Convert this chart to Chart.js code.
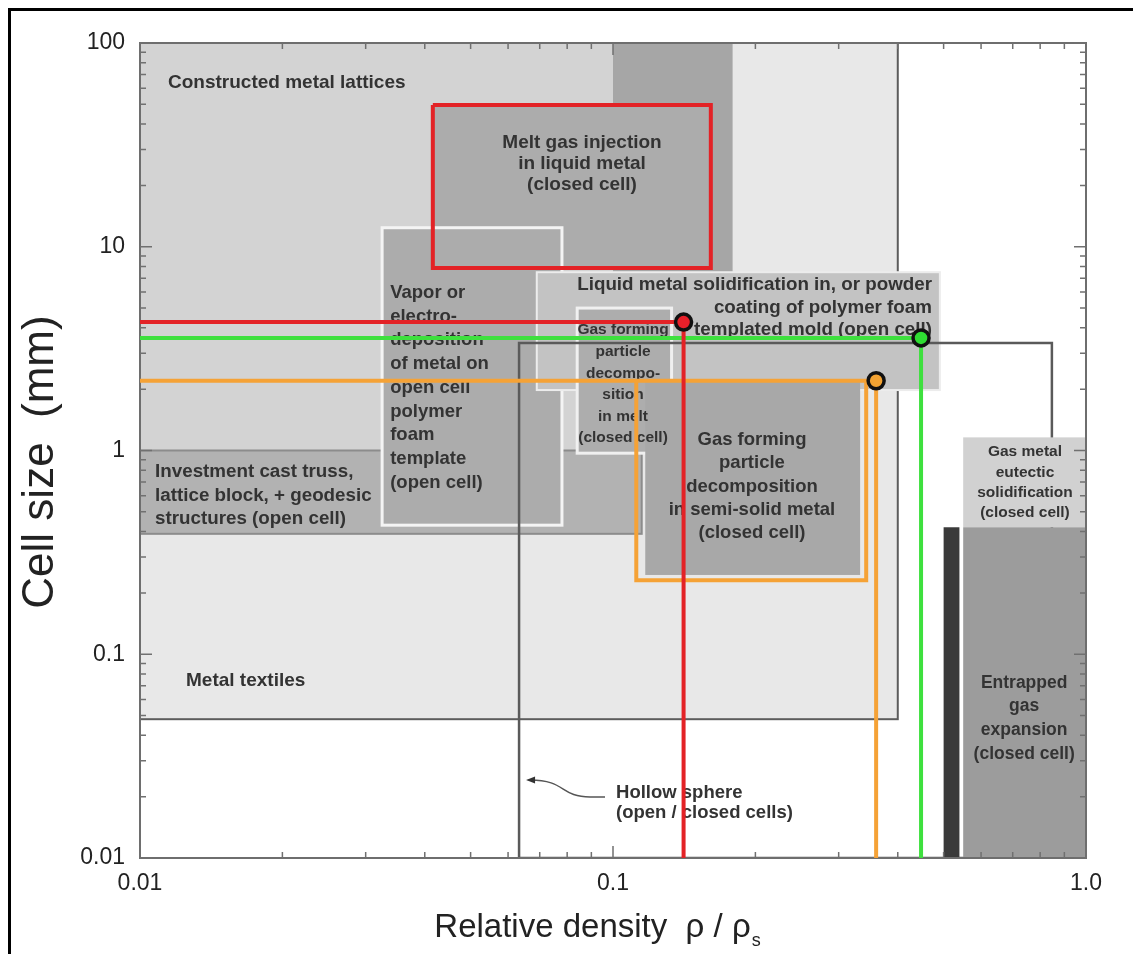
<!DOCTYPE html>
<html>
<head>
<meta charset="utf-8">
<script src="https://cdn.jsdelivr.net/npm/chart.js@4.4.1/dist/chart.umd.min.js"></script>
<style>
html,body{margin:0;padding:0;background:#fff;}
#wrap{position:relative;width:1133px;height:954px;}
</style>
</head>
<body>
<div id="wrap"><canvas id="c"></canvas></div>
<script>
const FONT = '"Liberation Sans", Arial, Helvetica, sans-serif';

// ---- axes ----
const xMin = 0.01, xMax = 1, yMin = 0.01, yMax = 100;
const xTickValues = [0.01, 0.1, 1];
const xTickLabels = ['0.01', '0.1', '1.0'];
const yTickValues = [0.01, 0.1, 1, 10, 100];
const yTickLabels = ['0.01', '0.1', '1', '10', '100'];

// ---- processing regions: relative density range, cell size range (mm) ----
const regionNames = [
  'Metal textiles',
  'Constructed metal lattices',
  'Melt gas injection (range)',
  'Investment cast truss',
  'Melt gas injection',
  'Vapor deposition',
  'Liquid metal solidification',
  'Gas forming in melt',
  'Gas forming semi-solid',
  'Hollow sphere',
  'Gas metal eutectic',
  'Entrapped gas expansion',
  'Entrapped gas (dense)'
];
const regionDensityMin = [0.01, 0.01, 0.1,   0.01,  0.0416, 0.0325, 0.069, 0.084, 0.117, 0.0633, 0.55, 0.55, 0.50];
const regionDensityMax = [0.40, 0.1,  0.179, 0.115, 0.161,  0.078,  0.491, 0.133, 0.333, 0.847,  1.0,  1.0,  0.54];
const regionCellMin    = [0.048, 1,   7.5,   0.39,  7.87,   0.43,   1.98,  0.97,  0.245, 0.01,   0.42, 0.01, 0.01];
const regionCellMax    = [100,  100,  100,   1,     49.6,   12.4,   7.5,   5.0,   2.2,   3.37,   1.16, 0.42, 0.42];

// ---- highlighted materials ----
const pointNames     = ['Red', 'Green', 'Orange'];
const pointDensity   = [0.141, 0.448, 0.36];
const pointCellSize  = [4.27, 3.57, 2.2];

// outlined boxes (red: melt gas injection, orange: semi-solid decomposition)
const redBoxDensity  = [0.0416, 0.161];
const redBoxCell     = [7.87, 49.6];
const orangeBoxDensity = [0.112, 0.343];
const orangeBoxCell    = [0.231, 2.2];

// ---- styles ----
const regionStyles = {
  'Metal textiles':              {fill:'#e8e8e8', stroke:'#5c5c5c', lw:2},
  'Constructed metal lattices':  {fill:'#d3d3d3'},
  'Melt gas injection (range)':  {fill:'#a6a6a6'},
  'Investment cast truss':       {fill:'#b2b2b2', stroke:'#8c8c8c', lw:2},
  'Melt gas injection':          {fill:'#acacac'},
  'Vapor deposition':            {fill:'#acacac', stroke:'#f4f4f4', lw:3},
  'Liquid metal solidification': {fill:'#c3c3c3', stroke:'#ececec', lw:2},
  'Gas forming in melt':         {fill:'#adadad', stroke:'#f0f0f0', lw:3},
  'Gas forming semi-solid':      {fill:'#a8a8a8'},
  'Hollow sphere':               {stroke:'#5a5a5a', lw:2.5},
  'Gas metal eutectic':          {fill:'#d1d1d1'},
  'Entrapped gas expansion':     {fill:'#9c9c9c'},
  'Entrapped gas (dense)':       {fill:'#3a3a3a'}
};
const pointColors = ['#e8202a', '#2fdd33', '#f2a232'];
const lineColors  = ['#e32226', '#3ee03e', '#f5a236'];

const labels = [
  {lines:['Constructed metal lattices'], x:0.01146, y:63.5, align:'left', size:19, lh:0},
  {lines:['Melt gas injection','in liquid metal','(closed cell)'], x:0.086, y:32.3, align:'center', size:19, lh:21},
  {lines:['Vapor or','electro-','deposition','of metal on','open cell','polymer','foam','template','(open cell)'], x:0.0338, y:5.93, align:'left', size:18.5, lh:23.7},
  {lines:['Liquid metal solidification in, or powder','coating of polymer foam','templated mold (open cell)'], x:0.4725, y:6.49, align:'right', size:18.8, lh:22.5},
  {lines:['Gas forming','particle','decompo-','sition','in melt','(closed cell)'], x:0.105, y:3.90, align:'center', size:15.5, lh:21.6},
  {lines:['Gas forming','particle','decomposition','in semi-solid metal','(closed cell)'], x:0.1967, y:1.126, align:'center', size:18.5, lh:23.3},
  {lines:['Investment cast truss,','lattice block, + geodesic','structures (open cell)'], x:0.01076, y:0.784, align:'left', size:18.8, lh:23.5},
  {lines:['Metal textiles'], x:0.01251, y:0.074, align:'left', size:19, lh:0},
  {lines:['Gas metal','eutectic','solidification','(closed cell)'], x:0.743, y:0.983, align:'center', size:15.5, lh:20.3},
  {lines:['Entrapped','gas','expansion','(closed cell)'], x:0.740, y:0.0723, align:'center', size:17.5, lh:23.7},
  {lines:['Hollow sphere','(open / closed cells)'], x:0.1015, y:0.02085, align:'left', size:18.5, lh:20}
];
// leader from the "Hollow sphere" label to the region edge
const hollowLeader = {from:{x:0.0655, y:0.02415}, to:{x:0.0962, y:0.01993}};

// ---- datasets ----
function cornerLine(i) {
  return [{x:xMin, y:pointCellSize[i]}, {x:pointDensity[i], y:pointCellSize[i]}, {x:pointDensity[i], y:yMin}];
}
function boxPath(dx, dy) {
  return [{x:dx[0], y:dy[1]}, {x:dx[1], y:dy[1]}, {x:dx[1], y:dy[0]}, {x:dx[0], y:dy[0]}, {x:dx[0], y:dy[1]}];
}
function orangeBoxPath() {
  return [{x:orangeBoxDensity[0], y:orangeBoxCell[1]}, {x:orangeBoxDensity[0], y:orangeBoxCell[0]},
          {x:orangeBoxDensity[1], y:orangeBoxCell[0]}, {x:orangeBoxDensity[1], y:orangeBoxCell[1]}];
}
const lineDefaults = {showLine:true, fill:false, pointRadius:0, borderWidth:4, tension:0, borderJoinStyle:'miter', borderCapStyle:'butt'};

const datasets = [
  {label:'Points', data: pointDensity.map((d,i)=>({x:d, y:pointCellSize[i]})), showLine:false,
   pointRadius:8, pointBackgroundColor:pointColors, pointBorderColor:'#111', pointBorderWidth:3.5, order:0},
  Object.assign({label:'Red', data:cornerLine(0), borderColor:lineColors[0], order:1}, lineDefaults),
  Object.assign({label:'Green', data:cornerLine(1), borderColor:lineColors[1], order:2}, lineDefaults),
  Object.assign({label:'Orange', data:cornerLine(2), borderColor:lineColors[2], order:3}, lineDefaults),
  Object.assign({label:'Red box', data:boxPath(redBoxDensity, redBoxCell), borderColor:lineColors[0], order:4}, lineDefaults),
  Object.assign({label:'Orange box', data:orangeBoxPath(), borderColor:lineColors[2], order:5}, lineDefaults)
];

// ---- plugin: regions, labels, frame, inward ticks, titles ----
const regionPlugin = {
  id:'regions',
  beforeDatasetsDraw(chart) {
    const ctx = chart.ctx, xs = chart.scales.x, ys = chart.scales.y, ca = chart.chartArea;
    ctx.save();
    ctx.beginPath(); ctx.rect(ca.left, ca.top, ca.right-ca.left, ca.bottom-ca.top); ctx.clip();
    regionNames.forEach((name, i) => {
      const st = regionStyles[name];
      const x0 = xs.getPixelForValue(regionDensityMin[i]), x1 = xs.getPixelForValue(regionDensityMax[i]);
      const y0 = ys.getPixelForValue(regionCellMax[i]), y1 = ys.getPixelForValue(regionCellMin[i]);
      if (st.fill) { ctx.fillStyle = st.fill; ctx.fillRect(x0, y0, x1-x0, y1-y0); }
      if (st.stroke) { ctx.strokeStyle = st.stroke; ctx.lineWidth = st.lw; ctx.strokeRect(x0, y0, x1-x0, y1-y0); }
    });
    // labels
    ctx.fillStyle = '#333';
    ctx.textBaseline = 'middle';
    labels.forEach(l => {
      ctx.font = 'bold ' + l.size + 'px ' + FONT;
      ctx.textAlign = l.align;
      const px = xs.getPixelForValue(l.x), py = ys.getPixelForValue(l.y);
      l.lines.forEach((t, k) => ctx.fillText(t, px, py + k*l.lh));
    });
    // leader with arrow
    const ax = xs.getPixelForValue(hollowLeader.from.x), ay = ys.getPixelForValue(hollowLeader.from.y);
    const bx = xs.getPixelForValue(hollowLeader.to.x), by = ys.getPixelForValue(hollowLeader.to.y);
    ctx.strokeStyle = '#555'; ctx.lineWidth = 1.5;
    ctx.beginPath(); ctx.moveTo(ax+4, ay);
    ctx.bezierCurveTo(ax+40, ay, bx-45, by, bx-15, by); ctx.lineTo(bx, by); ctx.stroke();
    ctx.fillStyle = '#333';
    ctx.beginPath(); ctx.moveTo(ax, ay); ctx.lineTo(ax+9, ay-3.5); ctx.lineTo(ax+9, ay+3.5); ctx.closePath(); ctx.fill();
    ctx.restore();

    // frame
    ctx.save();
    ctx.strokeStyle = '#6e6e6e'; ctx.lineWidth = 2;
    ctx.strokeRect(ca.left, ca.top, ca.right-ca.left, ca.bottom-ca.top);
    // inward ticks (major + log minor) on all four sides
    ctx.lineWidth = 1.5; ctx.strokeStyle = '#707070';
    ctx.beginPath();
    for (let e = Math.log10(xMin); e < Math.log10(xMax) + 0.001; e++) {
      for (let m = 1; m <= 9; m++) {
        const v = m * Math.pow(10, e);
        if (v > xMax * 1.0001) break;
        const p = xs.getPixelForValue(v), len = m === 1 ? 12 : 6;
        ctx.moveTo(p, ca.bottom); ctx.lineTo(p, ca.bottom - len);
        ctx.moveTo(p, ca.top); ctx.lineTo(p, ca.top + len);
      }
    }
    for (let e = Math.log10(yMin); e < Math.log10(yMax) + 0.001; e++) {
      for (let m = 1; m <= 9; m++) {
        const v = m * Math.pow(10, e);
        if (v > yMax * 1.0001) break;
        const p = ys.getPixelForValue(v), len = m === 1 ? 12 : 6;
        ctx.moveTo(ca.left, p); ctx.lineTo(ca.left + len, p);
        ctx.moveTo(ca.right, p); ctx.lineTo(ca.right - len, p);
      }
    }
    ctx.stroke();
    ctx.restore();
  },
  afterDraw(chart) {
    const ctx = chart.ctx, ca = chart.chartArea;
    ctx.save();
    // picture frame (top and left)
    ctx.fillStyle = '#000';
    ctx.fillRect(8, 8, chart.width - 8, 3);
    ctx.fillRect(8, 8, 3, chart.height - 8);
    // axis titles
    ctx.fillStyle = '#222';
    ctx.textBaseline = 'alphabetic';
    // x title
    ctx.font = '33px ' + FONT;
    const t1 = 'Relative density  \u03c1 / \u03c1';
    const w1 = ctx.measureText(t1).width;
    ctx.font = '18px ' + FONT;
    const w2 = ctx.measureText('s').width;
    const cx = 597;
    const x0 = cx - (w1 + w2) / 2;
    ctx.font = '33px ' + FONT;
    ctx.textAlign = 'left';
    ctx.fillText(t1, x0, 937);
    ctx.font = '18px ' + FONT;
    ctx.fillText('s', x0 + w1 + 1, 946);
    // y title
    ctx.translate(53, 462);
    ctx.rotate(-Math.PI / 2);
    ctx.font = '44px ' + FONT;
    ctx.textAlign = 'center';
    ctx.fillText('Cell size  (mm)', 0, 0);
    ctx.restore();
  }
};

new Chart(document.getElementById('c'), {
  type:'scatter',
  data:{datasets},
  options:{
    responsive:true, maintainAspectRatio:false, animation:false, events:[],
    layout:{padding:{left:10, right:47, top:43, bottom:0}},
    plugins:{legend:{display:false}, tooltip:{enabled:false}, title:{display:false}},
    scales:{
      x:{type:'logarithmic', position:'bottom', min:xMin, max:xMax,
         afterBuildTicks: s => { s.ticks = xTickValues.map(v => ({value:v})); },
         afterFit: s => { s.height = 96; },
         grid:{display:false, drawTicks:false}, border:{display:false},
         ticks:{autoSkip:false, maxRotation:0, padding:12, color:'#222',
                font:{family:FONT, size:23}, callback:(v, i) => xTickLabels[i]}},
      y:{type:'logarithmic', position:'left', min:yMin, max:yMax,
         afterBuildTicks: s => { s.ticks = yTickValues.map(v => ({value:v})); },
         afterFit: s => { s.width = 130; },
         grid:{display:false, drawTicks:false}, border:{display:false},
         ticks:{autoSkip:false, padding:15, color:'#222',
                font:{family:FONT, size:23}, callback:(v, i) => yTickLabels[i]}}
    }
  },
  plugins:[regionPlugin]
});
</script>
</body>
</html>
